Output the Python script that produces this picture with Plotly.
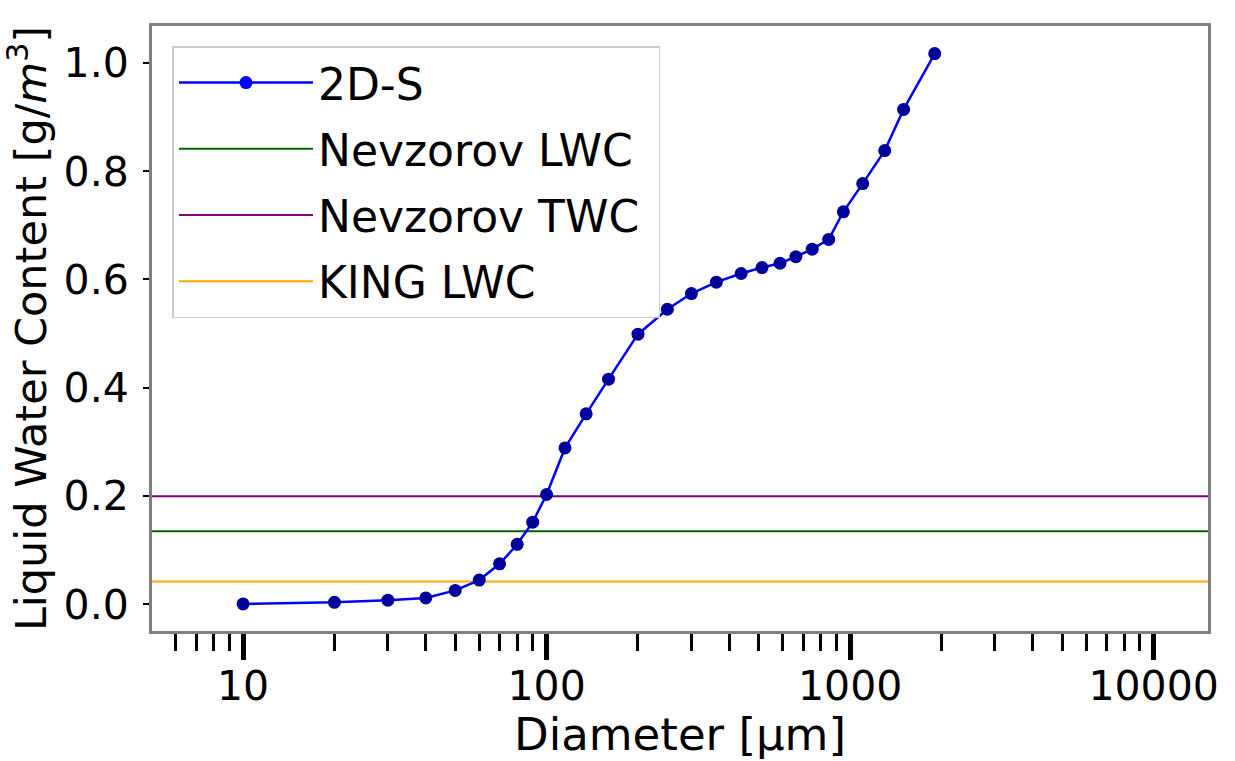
import plotly.graph_objects as go

# ---- data ----
diameter_um = [10, 20, 30, 40, 50, 60, 70, 80, 90, 100, 115, 135, 160, 200, 250, 300,
               362.5, 437.5, 512.5, 587.5, 662.5, 750, 850, 950, 1100, 1300, 1500, 1900]
lwc_2ds = [0.001, 0.004, 0.008, 0.012, 0.026, 0.045, 0.075, 0.111, 0.152, 0.203, 0.289,
           0.352, 0.416, 0.499, 0.545, 0.574, 0.595, 0.611, 0.622, 0.630, 0.642, 0.656,
           0.674, 0.725, 0.777, 0.838, 0.914, 1.017]
nevzorov_lwc = 0.135
nevzorov_twc = 0.2
king_lwc = 0.0425
x_limits = [5, 15100]
x_tick_vals = [10, 100, 1000, 10000]
x_tick_text = ["10", "100", "1000", "10000"]
x_minor_vals = [6, 7, 8, 9,
                20, 30, 40, 50, 60, 70, 80, 90,
                200, 300, 400, 500, 600, 700, 800, 900,
                2000, 3000, 4000, 5000, 6000, 7000, 8000, 9000]
y_tick_vals = [0.0, 0.2, 0.4, 0.6, 0.8, 1.0]
y_tick_text = ["0.0", "0.2", "0.4", "0.6", "0.8", "1.0"]

FONT = "DejaVu Sans"

fig = go.Figure()

# horizontal reference lines (drawn beneath the 2D-S curve)
for name, val, col, rank in [("Nevzorov LWC", nevzorov_lwc, "#006400", 2),
                             ("Nevzorov TWC\u00a0", nevzorov_twc, "#800080", 3),
                             ("KING LWC", king_lwc, "#FFA500", 4)]:
    fig.add_trace(go.Scatter(x=x_limits, y=[val, val], mode="lines", name=name,
                             line=dict(color=col, width=2), legendrank=rank,
                             legendgroup=name))

# 2D-S curve
fig.add_trace(go.Scatter(x=diameter_um, y=lwc_2ds, mode="lines+markers", name="2D-S",
                         line=dict(color="#0000ff", width=2.5),
                         marker=dict(color="#00009a", size=13),
                         showlegend=False))
# legend entry for 2D-S (bright blue marker as in reference legend)
fig.add_trace(go.Scatter(x=[None], y=[None], mode="lines+markers", name="2D-S",
                         line=dict(color="#0000ff", width=2.5),
                         marker=dict(color="#0000ff", size=13), legendrank=1,
                         legendgroup="2D-S"))

W, H = 1235, 761
L, T = 151.5, 26
R, B = W - 1208, H - 631
pw, ph = W - L - R, H - T - B

fig.update_layout(
    width=W, height=H,
    margin=dict(l=L, r=R, t=T, b=B, pad=0),
    paper_bgcolor="white", plot_bgcolor="white",
    font=dict(family=FONT, color="black"),
    showlegend=True,
    legend=dict(x=(172 - L) / pw, y=1 - (46 - T) / ph, xanchor="left", yanchor="top",
                bgcolor="rgba(255,255,255,0.8)", bordercolor="#cccccc", borderwidth=1.5,
                font=dict(family=FONT, size=44, color="black"),
                itemwidth=134, traceorder="grouped", tracegroupgap=6),
)

fig.update_xaxes(
    type="log", range=[0.7, 4.179], automargin=False,
    tickvals=x_tick_vals, ticktext=x_tick_text,
    ticks="outside", ticklen=26, tickwidth=4.5, tickcolor="black",
    ticklabelstandoff=-9,
    tickfont=dict(family=FONT, size=41, color="black"),
    minor=dict(tickmode="array", tickvals=x_minor_vals,
               ticks="outside", ticklen=17, tickwidth=2.5, tickcolor="black", showgrid=False),
    showgrid=False, zeroline=False,
    showline=True, linecolor="#808080", linewidth=3, mirror=True,
    title=dict(text="Diameter [µm]", font=dict(family=FONT, size=45, color="black"), standoff=8),
)
fig.update_yaxes(
    range=[-0.049, 1.068], automargin=False,
    tickvals=y_tick_vals, ticktext=y_tick_text,
    ticks="outside", ticklen=6, tickwidth=1.5, tickcolor="black",
    ticklabelstandoff=6,
    tickfont=dict(family=FONT, size=41, color="black"),
    showgrid=False, zeroline=False,
    showline=True, linecolor="#808080", linewidth=3, mirror=True,
    title=dict(text="Liquid Water Content [g/<i>m</i><sup>3</sup>]",
               font=dict(family=FONT, size=43, color="black"), standoff=4),
)

# remove the default 8px page margin so the figure fills the window exactly
fig.write_html("out.html",
               config={"displayModeBar": False},
               post_script="document.body.style.margin='0';document.body.style.overflow='hidden';")
